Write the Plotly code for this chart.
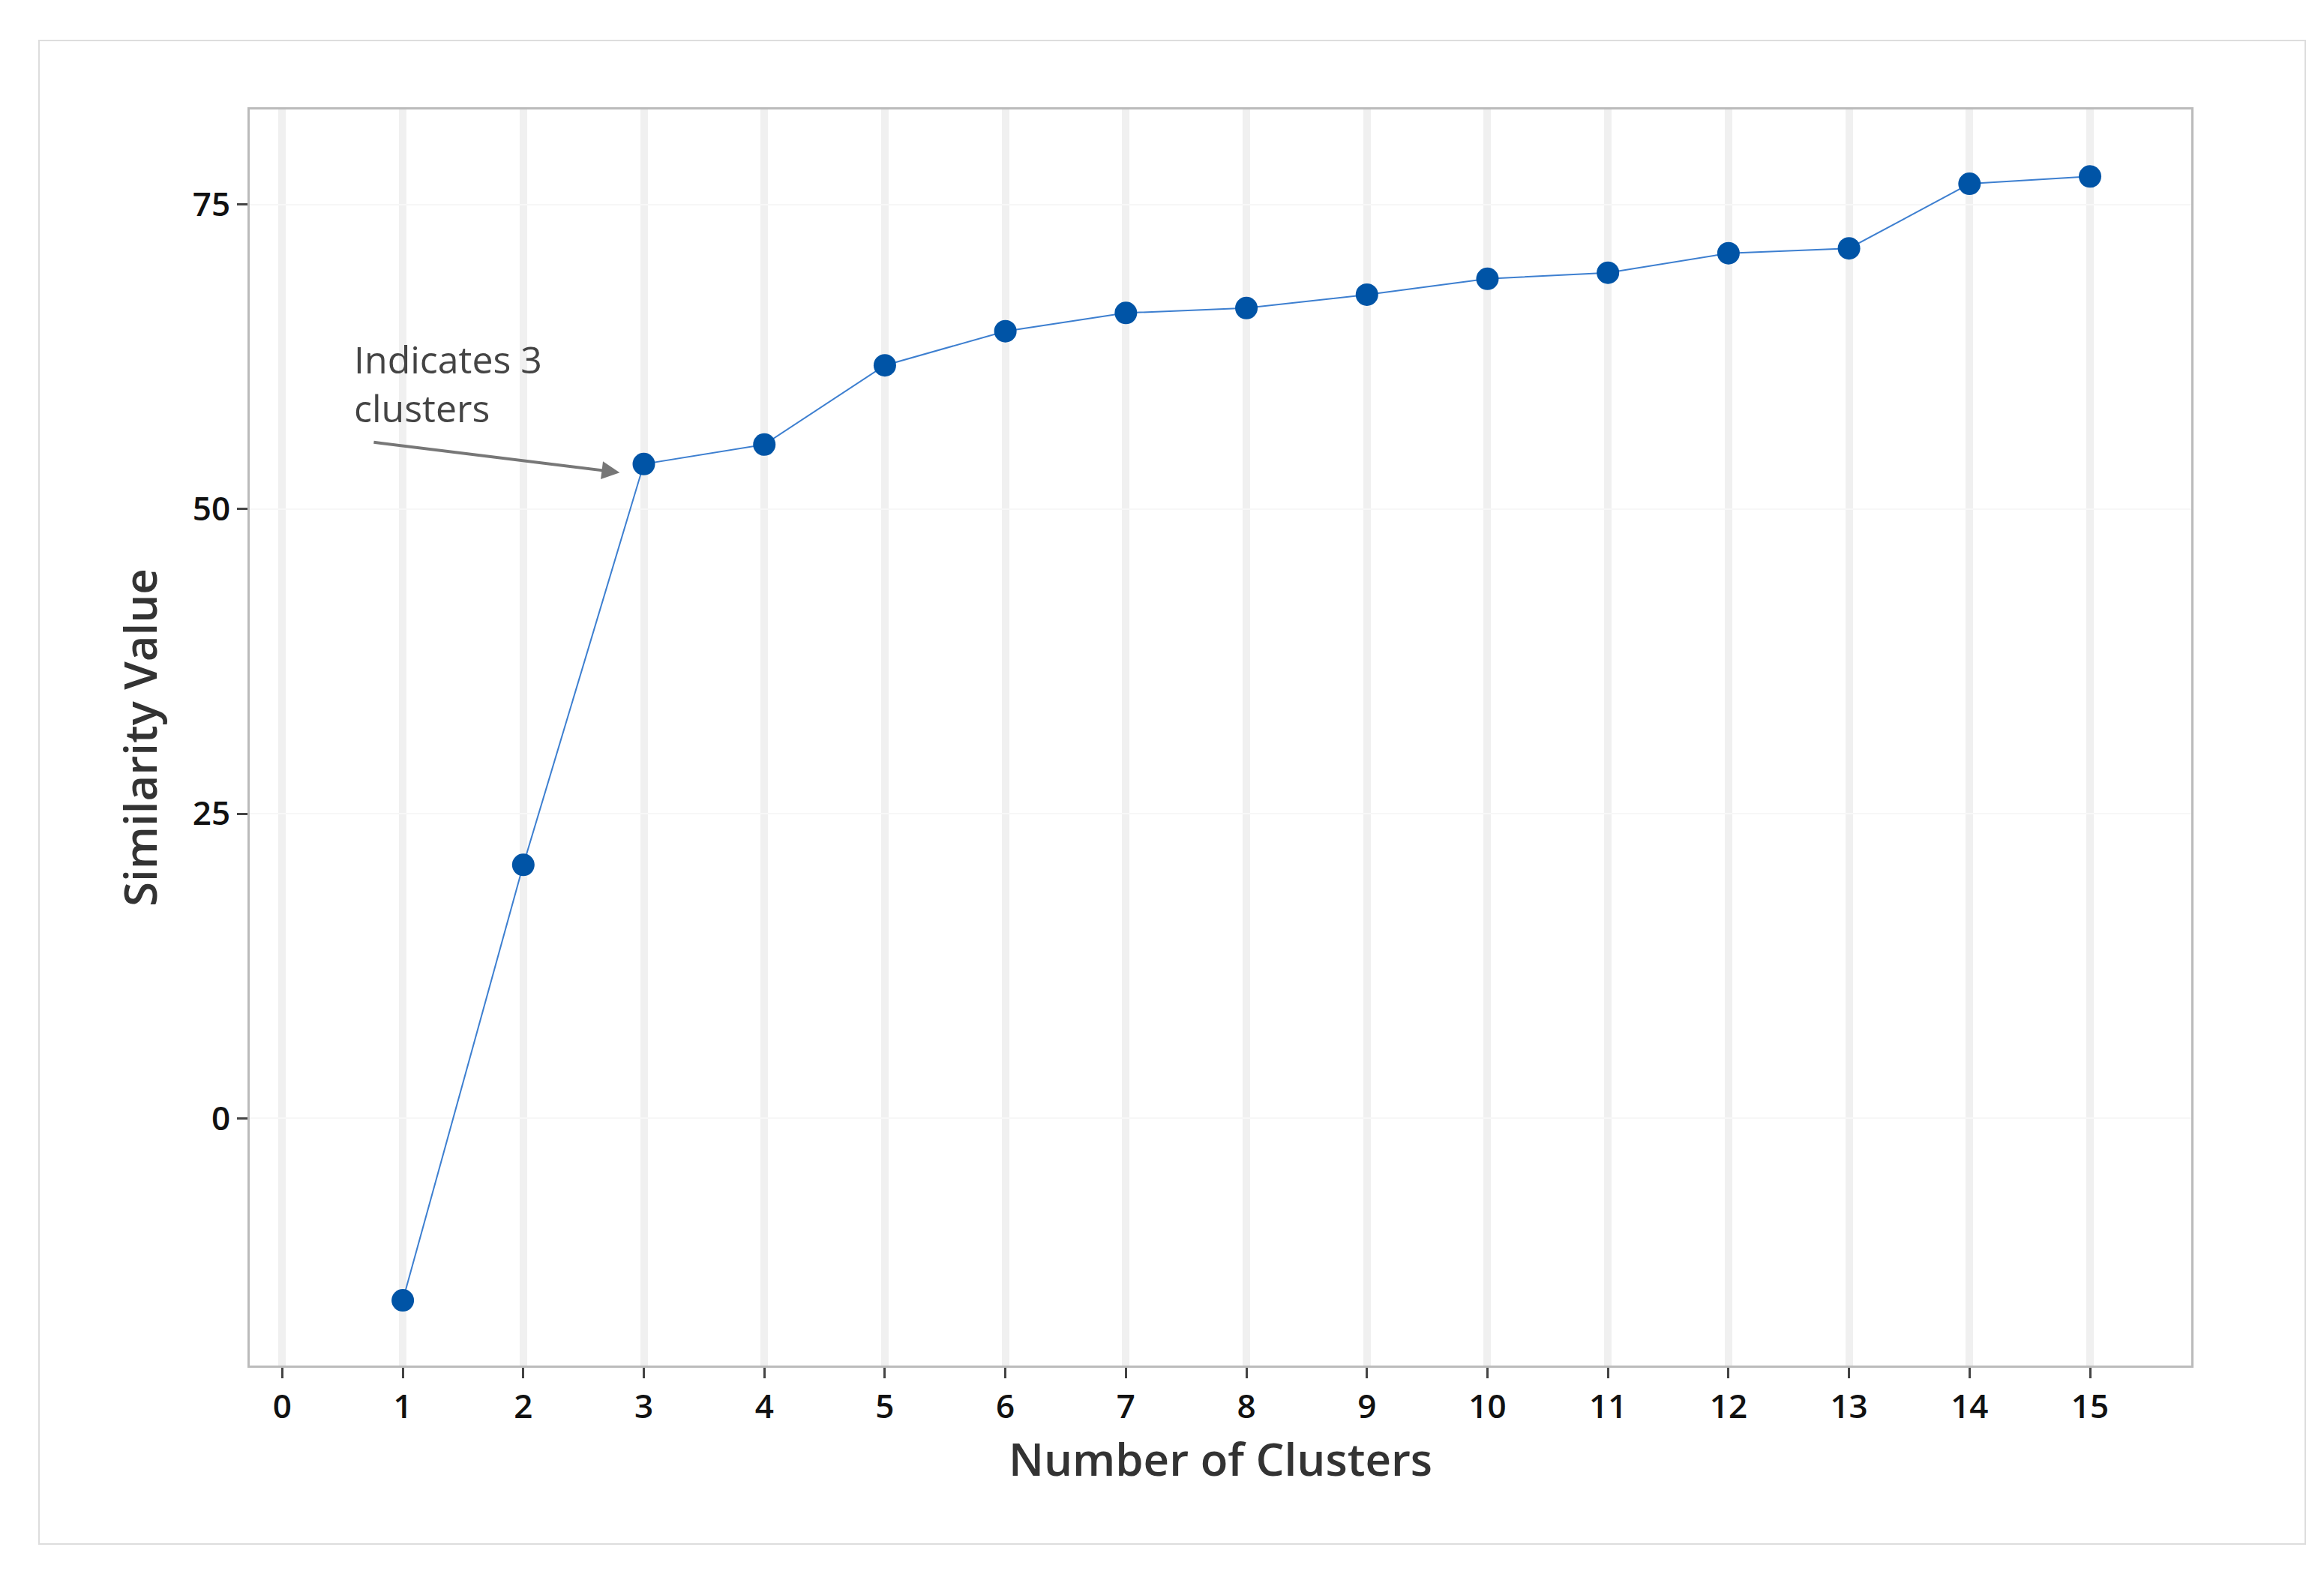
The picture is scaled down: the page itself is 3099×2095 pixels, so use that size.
import plotly.graph_objects as go

clusters = list(range(1, 16))
similarity = [-14.95, 20.8, 53.7, 55.3, 61.8, 64.6, 66.1, 66.5, 67.6, 68.9, 69.4, 71.0, 71.4, 76.7, 77.3]
xticks = list(range(0, 16))
yticks = [0, 25, 50, 75]

W, H = 3099, 2095
L, R, T, B = 325, 185, 138, 282
fig = go.Figure()
fig.add_trace(go.Scatter(x=clusters, y=similarity, mode="lines+markers",
                         line=dict(color="#3d7fd0", width=2),
                         marker=dict(color="#0054a6", size=30)))
fig.update_layout(
    width=W, height=H, margin=dict(l=L, r=R, t=T, b=B),
    paper_bgcolor="white", plot_bgcolor="white", showlegend=False,
    font=dict(family="Open Sans", color="#111"),
    xaxis=dict(range=[-0.27, 15.84], tickvals=xticks, showgrid=True, gridcolor="#f0f0f0", gridwidth=10,
               zeroline=False, showline=True, linecolor="#bbbbbb", linewidth=3, mirror=True,
               ticks="outside", ticklen=14, tickwidth=3, tickcolor="#444",
               tickfont=dict(size=44, weight=600),
               title=dict(text="Number of Clusters", font=dict(size=60, color="#333", weight=600), standoff=18)),
    yaxis=dict(range=[-20.3, 82.8], tickvals=yticks, showgrid=True, gridcolor="#f7f7f7", gridwidth=2,
               zeroline=False, showline=True, linecolor="#bbbbbb", linewidth=3, mirror=True,
               ticks="outside", ticklen=14, tickwidth=3, tickcolor="#444",
               tickfont=dict(size=44, weight=600),
               title=dict(text="Similarity Value", font=dict(size=60, color="#333", weight=600), standoff=28)),
)
fig.add_shape(type="rect", xref="paper", yref="paper",
              x0=(44 - L) / (W - L - R), x1=(3066 - L) / (W - L - R),
              y0=(H - B - 2051) / (H - T - B), y1=(H - B - 46) / (H - T - B),
              line=dict(color="#dddddd", width=2), layer="below")
fig.add_annotation(x=2.8, y=53.0, ax=0.75, ay=55.5, xref="x", yref="y", axref="x", ayref="y",
                   showarrow=True, arrowhead=2, arrowsize=1.2, arrowwidth=4, arrowcolor="#777", text="")
fig.add_annotation(x=0.58, y=64.5, xref="x", yref="y", xanchor="left", yanchor="top", align="left",
                   showarrow=False, text="Indicates 3<br>clusters", font=dict(size=50, color="#444"))
fig.write_html("out.html")
